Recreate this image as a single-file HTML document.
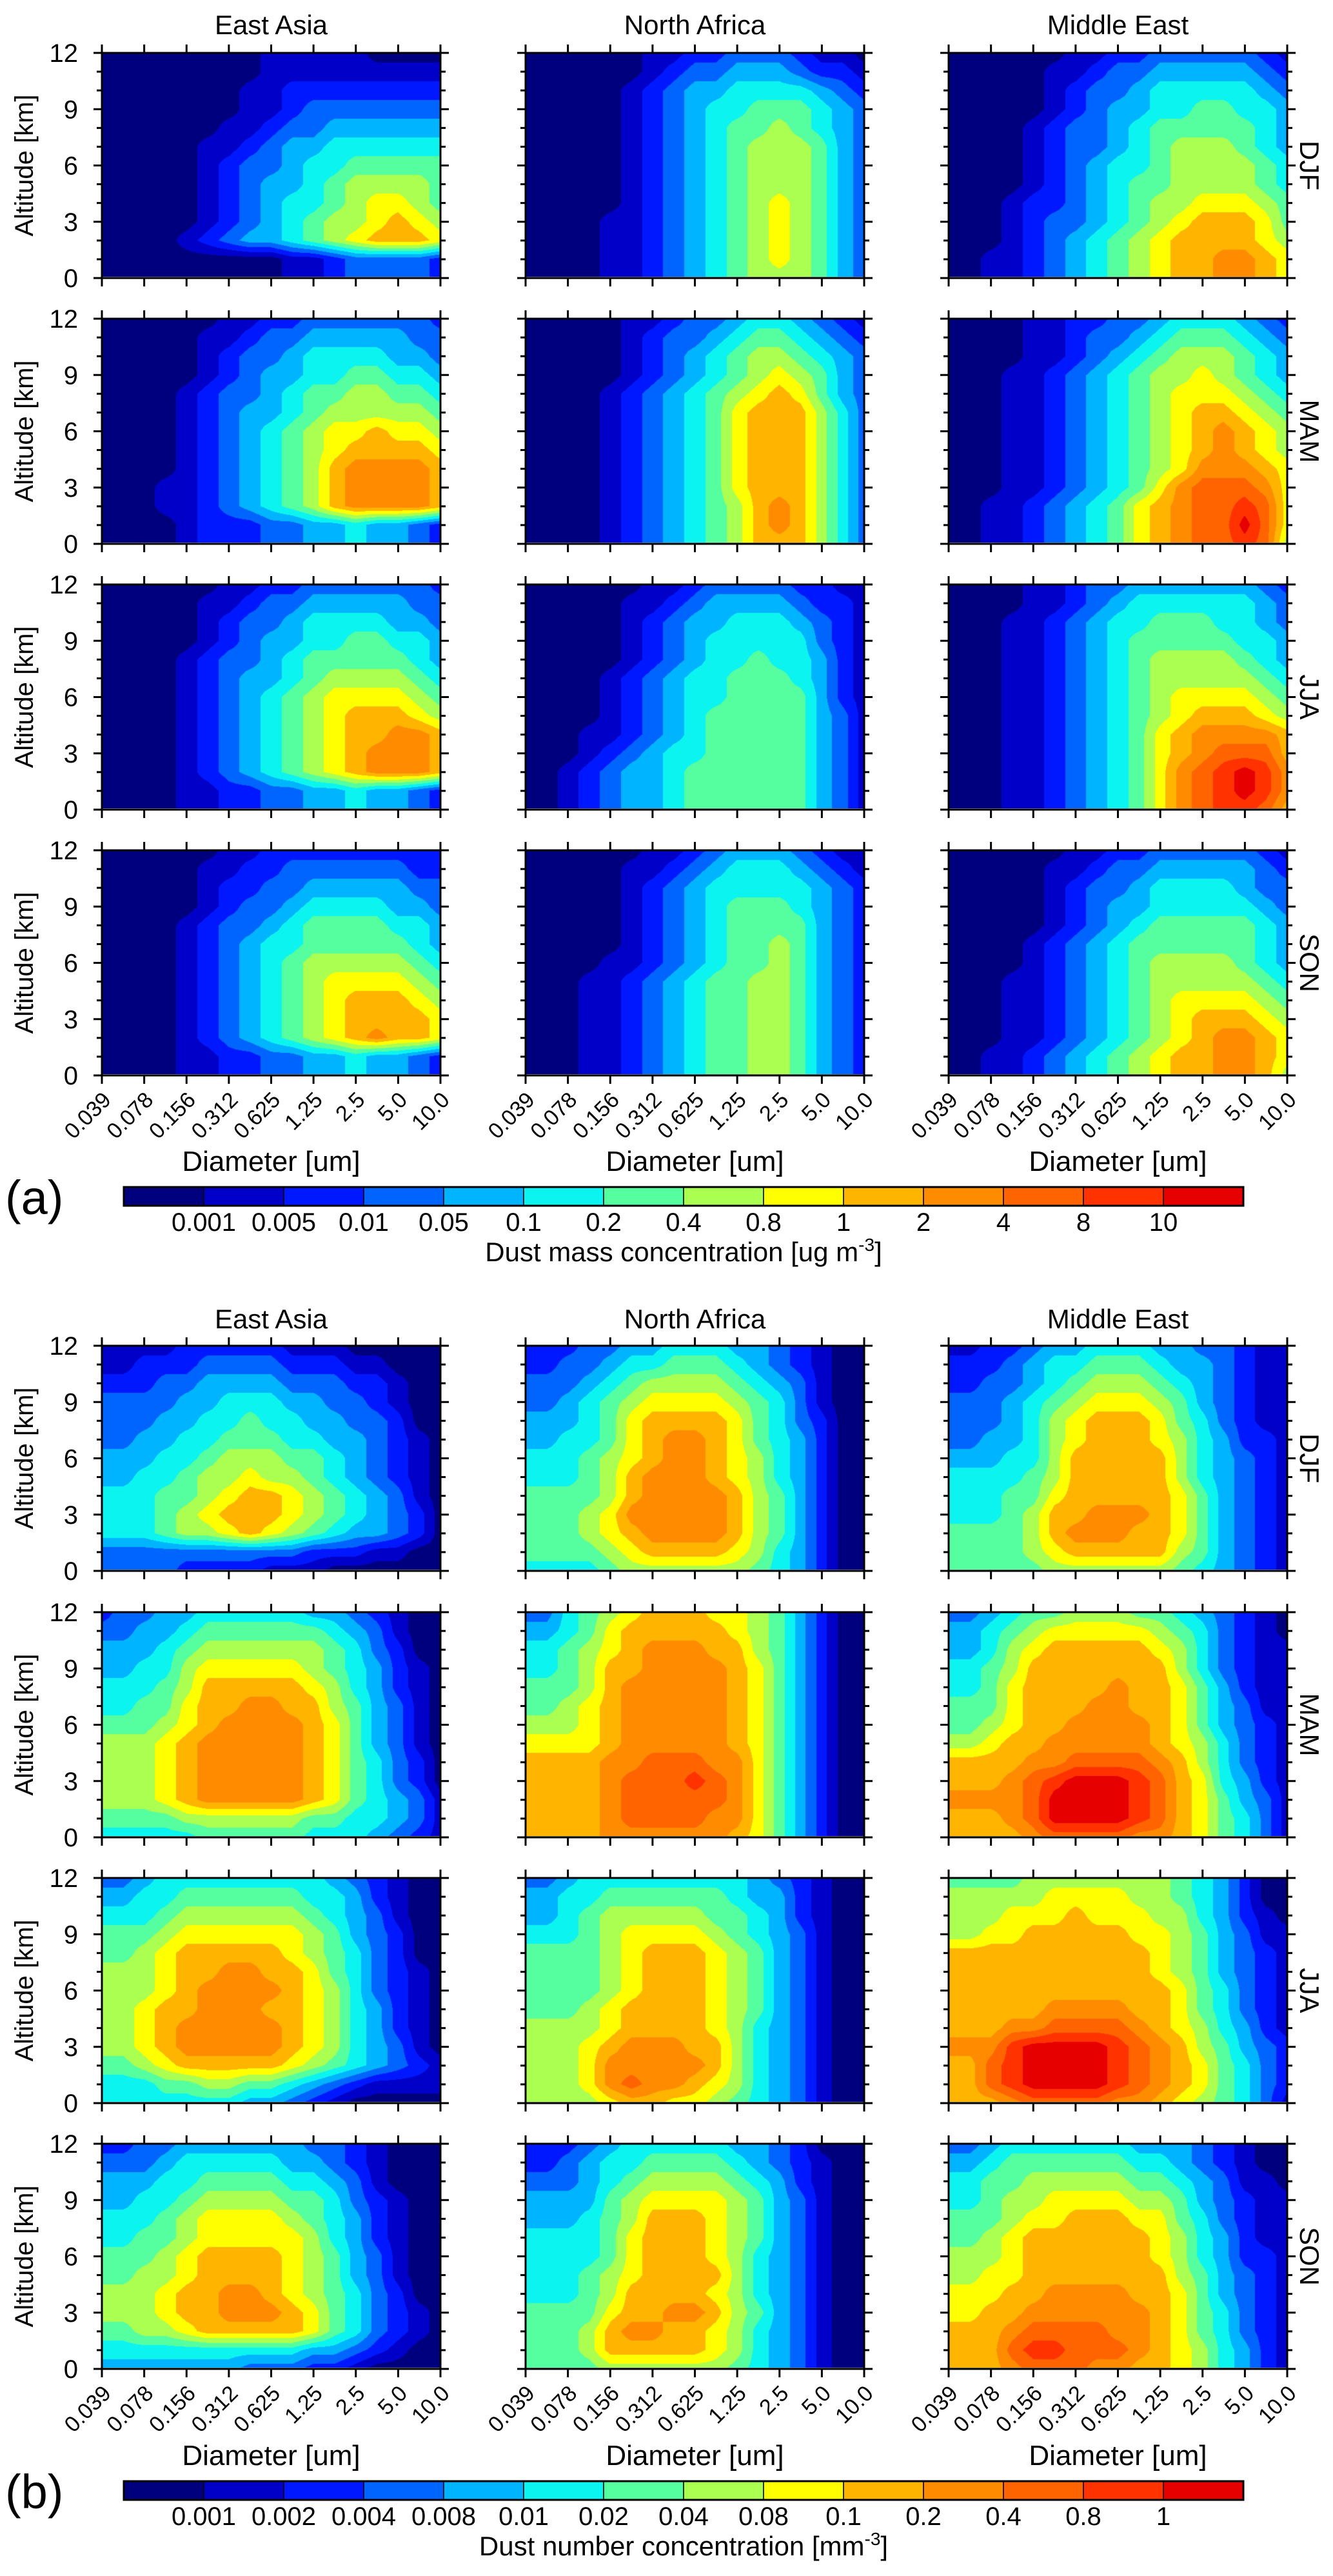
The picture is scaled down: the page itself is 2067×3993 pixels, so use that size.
<!DOCTYPE html>
<html>
<head>
<meta charset="utf-8">
<style>
html,body{margin:0;padding:0;background:#fff;}
#root{position:relative;width:2067px;height:3993px;overflow:hidden;background:#fff;font-family:"Liberation Sans",sans-serif;}
canvas{position:absolute;}
svg{position:absolute;left:0;top:0;}
</style>
</head>
<body>
<div id="root">
<svg id="ov" width="2067" height="3993"></svg>
</div>
<script>
// ---- data ----
const levelColors = ["#00007f","#0000c8","#0018ff","#0064ff","#00b4ff","#0cf4f0","#55ff9f","#aaff50","#ffff00","#ffb400","#ff8c00","#ff6400","#ff3200","#e60000"];
const massLabels = ["0.001","0.005","0.01","0.05","0.1","0.2","0.4","0.8","1","2","4","8","10"];
const numberLabels = ["0.001","0.002","0.004","0.008","0.01","0.02","0.04","0.08","0.1","0.2","0.4","0.8","1"];
const regions = ["East Asia","North Africa","Middle East"];
const seasons = ["DJF","MAM","JJA","SON"];
const diameterTicks = ["0.039","0.078","0.156","0.312","0.625","1.25","2.5","5.0","10.0"];
const altitudeTicks = [0,3,6,9,12];
// grids: rows from 12 km (top) to 0 km, 17 columns at half-tick steps; values = colour level index (hex)
const massEA_DJF=["00000000111110000","00000000111111111","00000001122222222","00000001123333333","00000011233444444","00000112344555555","00000123345566666","00000123445677776","00000123455678876","00000123456778987","00001234456789998","00000000011233332","00000000011233332"];
const massNA_DJF=["00000011223332110","00000012334443221","00000123445555432","00000123455666543","00000123456676543","00000123456777643","00000123456777643","00000123456777643","00000123456787643","00001123456787643","00001123456787643","00001123456787643","00001123456777643"];
const massME_DJF=["00000011223333321","00000112334444432","00000123345555543","00000123445566554","00001233456666654","00001233456777654","00001234556777765","00001234566777765","00012234567788876","00012334567899986","00012345678999987","0011234567899aa98","0011234567899aa98"];
const massEA_MAM=["00000011223333332","00000112334444433","00000123345555443","00000123445566554","00001233456677665","00001234456777776","00001234567889887","00001234567899998","000012345679aaaa9","000112345679aaaa9","000112345679aaaa9","00001222334454432","00001222334454432"];
const massNA_MAM=["00000112334554321","00000123345665432","00000123456776543","00000123456787643","00001234567898643","00001234568999753","00001234568999753","00001234568999753","00001234568999753","00001234568999753","000012345679a9753","000012345679a9753","00001234567999753"];
const massME_MAM=["00001122334555432","00001123345666543","00001123456777654","00011234567787654","00011234567888765","00011234567899876","0001123456789a987","0001123456789a987","000112345678aaa98","00011234568abbba8","00112345689abbcb8","00112345689abbdb8","00112345689abbcb7"];
const massEA_JJA=["00000011223333332","00000112334444433","00000123345555443","00000123445566554","00001233456666654","00001234456777765","00001234567888876","00001234567899987","00001234567899aa9","0000123456789aaa9","0000123456789aaa9","00001122334454432","00001122334454432"];
const massNA_JJA=["00000011233332211","00000112344443221","00000123445554321","00000123455555321","00000123455655421","00001234556665421","00001234556666421","00001234566666431","00011234566666431","00012345566666431","00123445666666431","00123445666666431","00123445666666431"];
const massME_JJA=["00001123344444432","00001123455555543","00011234556665543","00011234566666554","00011234567777654","00011234567777765","00011234567888876","00011234567899987","000112345689aaaa9","000112345689abbb9","00011234568abcdca","00011234568abcdca","00011234568abccb9"];
const massEA_SON=["00000011222222222","00000112233333322","00000122334444433","00000123345555443","00001233456666554","00001234556666654","00001234567777765","00001234567888876","00001234567899987","00001234567899998","0000123456789a998","00001122334454432","00001122334454432"];
const massNA_SON=["00000011234443211","00000112345554321","00000123455555432","00000123456665432","00000123456666432","00000123456676432","00001123456676432","00011234566776432","00011234566776432","00011234566776432","00011234566776432","00011234566776432","00011234566776432"];
const massME_SON=["00000011223333321","00000112334444432","00000123345555433","00000123445555543","00000123456666654","00001234566666654","00001234567777654","00011234567777765","00011234567888876","00011234567899987","0001123456789aa98","0011234567899aa98","0011234567899aa97"];
const numEA_DJF=["11112222211100000","11222333322211000","22233444433322100","33334455544332100","33344556554433200","33445566655443210","44455677766543210","44556778776543210","55566789987654310","55567899987654320","55567789876544320","33333333332221100","33332222111000000"];
const numNA_DJF=["22233445554432100","22334556665432100","33345677776543100","33456788887653100","44456899998653200","4455689aa98654200","5556789aa98754200","555679aaa98754200","666679aaaa9764200","66678aaaaa9764200","666789aaaa9764200","66667899998754200","55556777777654200"];
const numME_DJF=["11223445554433211","22234556665443211","22334567776543211","33345678887643211","33345789998653211","33445789998754221","44455799999754321","55556799999754321","55566899999864321","5556799aaa9864321","666679aaa99864321","66667899999764321","66666777777654321"];
const numEA_MAM=["23344555554432100","33445666666543100","44456777777653200","44557888887654210","55567999998754210","5566899aa99764310","666789aaaa9864310","77789aaaaa9864310","77789aaaaa9865320","77789aaaaa9865320","77789aaaaa9865431","66667777776655431","55555666665554321"];
const numNA_MAM=["33567899988764200","44568999998764200","556789aaa99764200","556799aaaa9864200","66679aaaaa9864200","66789aaaaa9864200","77789aaaaa9864200","88889aaaaa9864200","9999aabbbaa864200","9999abbbcba864200","9999abbbbba864200","9999abbbbaa864200","9999aaaaaa9864200"];
const numME_MAM=["33456677766543210","44567888887653210","44578999998753211","55679999999753211","55689999a99864211","6668999aa99864311","667899aaaa9864321","77899aaaaa9875321","9999aabbbba975321","999abcdddcb985421","aaaabddddcb986431","999abddddcb986531","9999abbbbaa986531"];
const numEA_JJA=["33455555555432100","44556666665542100","55567777776543100","66678888887643200","66789999987653200","777899aa998653210","77789aaaa98753210","77899aaa998754210","7789aaaaa98754210","7789aaaaa98754310","66789999987654321","55566776654321111","55555554432100000"];
const numNA_JJA=["33455555555432100","44556666665442100","44567777766542100","55567888876543100","66667899987643100","66667899987643100","66667899987643100","66678999987643100","77778999987543100","77789aaa997543100","7778aaaaa97543100","7778abaa987543100","77778998876543100"];
const numME_JJA=["66667777777654200","77777888877654200","77788898887754210","77889999988764311","99999999998764321","99999999998764321","99999999999865321","99999aaaa99865321","999aabbbba9875421","aaacddddcba976432","99bcddddcba986532","99bcddddcba986532","999abbbbaa9876531"];
const numEA_SON=["22334444443321000","33345555544321000","44455666655431000","44556777766532100","55567888876542100","55667888887542100","66678999987643100","66778999987643100","777899aa987653200","777899aaa98653210","66778999998653210","55555555554432100","44444443332210000"];
const numNA_SON=["22234555554432000","22345566665432100","33345677776542100","44446788887643100","44456799987643100","55556899987643100","55556899987543100","55567899997543100","55567999987543100","6666899aa97643100","66679aa9987543100","66679999987543100","66667777776543100"];
const numME_SON=["33455555544432100","44566666655432100","55667777766543110","55677888877643211","66678899988653211","66789999998754211","77789999998754221","77889999999764321","88899aaaa99864321","8899aaaaaa9865321","999abbbbaa9865321","999bccbbba9875421","999abbbaa99875421"];

const massGrids=[[massEA_DJF,massNA_DJF,massME_DJF],[massEA_MAM,massNA_MAM,massME_MAM],[massEA_JJA,massNA_JJA,massME_JJA],[massEA_SON,massNA_SON,massME_SON]];
const numGrids=[[numEA_DJF,numNA_DJF,numME_DJF],[numEA_MAM,numNA_MAM,numME_MAM],[numEA_JJA,numNA_JJA,numME_JJA],[numEA_SON,numNA_SON,numME_SON]];

// ---- layout ----
const colLeft=[158,815,1471], PW=525;
const rowTopA=[82,494,906,1318], rowTopB=[2086,2499,2911,3323], PH=349;
const NS="http://www.w3.org/2000/svg";
const svg=document.getElementById('ov');
const root=document.getElementById('root');
const rgb=levelColors.map(h=>[parseInt(h.slice(1,3),16),parseInt(h.slice(3,5),16),parseInt(h.slice(5,7),16)]);

function el(tag,attrs,parent,text){const e=document.createElementNS(NS,tag);for(const k in attrs)e.setAttribute(k,attrs[k]);if(text!==undefined)e.textContent=text;(parent||svg).appendChild(e);return e;}
function xScale(left,i){return left+PW*i/(diameterTicks.length-1);}
function yScale(top,alt){return top+PH*(1-alt/12);}

function drawField(grid,left,top,name){
  const cv=document.createElement('canvas');
  cv.width=PW;cv.height=PH;cv.style.left=left+'px';cv.style.top=top+'px';
  
  
  root.insertBefore(cv,svg);
  const ctx=cv.getContext('2d');const img=ctx.createImageData(PW,PH);
  const G=grid.map(r=>r.split('').map(ch=>parseInt(ch,16)));
  const nr=G.length-1,nc=G[0].length-1;
  for(let py=0;py<PH;py++){
    const fr=py/(PH-1)*nr;const r0=Math.min(Math.floor(fr),nr-1);const ty=fr-r0;
    for(let px=0;px<PW;px++){
      const fc=px/(PW-1)*nc;const c0=Math.min(Math.floor(fc),nc-1);const tx=fc-c0;
      const v=(G[r0][c0]*(1-tx)+G[r0][c0+1]*tx)*(1-ty)+(G[r0+1][c0]*(1-tx)+G[r0+1][c0+1]*tx)*ty;
      let b=Math.floor(v+0.5);if(b<0)b=0;if(b>13)b=13;
      const k=(py*PW+px)*4;img.data[k]=rgb[b][0];img.data[k+1]=rgb[b][1];img.data[k+2]=rgb[b][2];img.data[k+3]=255;
    }
  }
  ctx.putImageData(img,0,0);
}

function drawAxes(left,top,showXLabels,showYLabels,seasonLabel,name){
  const g=el('g',{});
  
  
  const bottom=top+PH,right=left+PW;
  el('line',{x1:left,y1:bottom-1,x2:right,y2:bottom-1,stroke:'#c0c0c0','stroke-width':2},g);
  el('rect',{x:left,y:top,width:PW,height:PH,fill:'none',stroke:'#000','stroke-width':3},g);
  for(let i=0;i<diameterTicks.length;i++){
    const x=xScale(left,i);
    el('line',{x1:x,y1:top,x2:x,y2:top-13,stroke:'#000','stroke-width':3},g);
    el('line',{x1:x,y1:bottom,x2:x,y2:bottom+13,stroke:'#000','stroke-width':3},g);
    if(showXLabels){
      const t=el('text',{x:0,y:0,'font-size':34,'text-anchor':'end',transform:`translate(${x+16},${bottom+40}) rotate(-45)`},g,diameterTicks[i]);
      
      
    }
  }
  for(let a=0;a<=12;a++){
    const y=yScale(top,a);const major=altitudeTicks.includes(a);const L=major?13:8;
    el('line',{x1:left,y1:y,x2:left-L,y2:y,stroke:'#000','stroke-width':3},g);
    el('line',{x1:right,y1:y,x2:right+L,y2:y,stroke:'#000','stroke-width':3},g);
  }
  if(showYLabels){
    altitudeTicks.forEach(a=>{
      const t=el('text',{x:left-37,y:yScale(top,a)+14,'font-size':40,'text-anchor':'end'},g,String(a));
      
      
    });
    const t=el('text',{x:0,y:0,'font-size':40,'text-anchor':'middle',transform:`translate(51,${top+PH/2}) rotate(-90)`},g,'Altitude [km]');
    
    
  }
  if(seasonLabel){
    const t=el('text',{x:0,y:0,'font-size':42,'text-anchor':'middle',transform:`translate(2016,${top+PH/2}) rotate(90)`},g,seasonLabel);
    
    
  }
}

function drawBlock(grids,rowTops,titleY,diamY,tagLetter,tagY,barTop,labels,barTitle,prefix){
  regions.forEach((r,j)=>{
    const t=el('text',{x:colLeft[j]+PW/2,y:titleY,'font-size':42,'text-anchor':'middle'},svg,r);
    
    
    const d=el('text',{x:colLeft[j]+PW/2,y:diamY,'font-size':44,'text-anchor':'middle'},svg,'Diameter [um]');
    
    
  });
  for(let i=0;i<4;i++)for(let j=0;j<3;j++){
    const nm=prefix+'-'+regions[j].toLowerCase().replace(' ','-')+'-'+seasons[i].toLowerCase();
    drawField(grids[i][j],colLeft[j],rowTops[i],nm+'-contour');
    drawAxes(colLeft[j],rowTops[i],i===3,j===0,j===2?seasons[i]:null,nm);
  }
  const tg=el('text',{x:8,y:tagY,'font-size':74},svg,tagLetter);
  
  
  const cb=el('g',{});
  
  
  const bx=192,bw=124,bh=29;
  levelColors.forEach((c,k)=>{el('rect',{x:bx+k*bw,y:barTop,width:bw,height:bh,fill:c,stroke:'#000','stroke-width':1.5},cb);});
  el('rect',{x:bx,y:barTop,width:bw*14,height:bh,fill:'none',stroke:'#000','stroke-width':3},cb);
  labels.forEach((l,k)=>{
    const t=el('text',{x:bx+(k+1)*bw,y:barTop+68,'font-size':40,'text-anchor':'middle'},cb,l);
    
    
  });
  const tt=el('text',{x:1060,y:barTop+115,'font-size':42,'text-anchor':'middle'},cb);
  
  
  tt.appendChild(document.createTextNode(barTitle));
  const sup=el('tspan',{dy:-16,'font-size':28},tt,'-3');
  el('tspan',{dy:16},tt,']');
}

drawBlock(massGrids,rowTopA,53,1815,'(a)',1882,1840,massLabels,'Dust mass concentration [ug m','mass');
drawBlock(numGrids,rowTopB,2059,3821,'(b)',3888,3846,numberLabels,'Dust number concentration [mm','number');
</script>
</body>
</html>
